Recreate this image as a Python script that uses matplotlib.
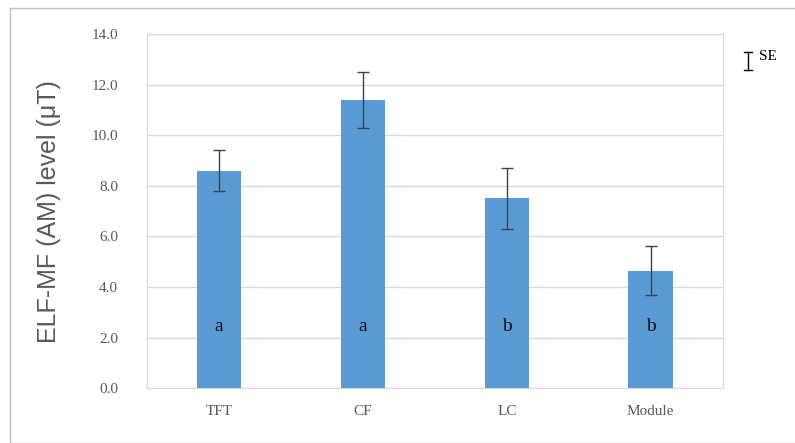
import matplotlib.pyplot as plt
from matplotlib.lines import Line2D
from matplotlib.patches import Rectangle

categories = ['TFT', 'CF', 'LC', 'Module']
means = [8.6, 11.4, 7.5, 4.65]
se = [0.82, 1.1, 1.2, 0.97]
letters = ['a', 'a', 'b', 'b']
yticks = [0, 2, 4, 6, 8, 10, 12, 14]

plt.rcParams['font.family'] = ['Liberation Serif', 'DejaVu Serif']

fig = plt.figure(figsize=(7.95, 4.43), dpi=100)
ax = fig.add_axes([0.185, 0.124, 0.724, 0.799])

x = range(len(categories))
ax.bar(x, means, width=0.31, color='#5B9BD5', zorder=2)
ax.errorbar(x, means, yerr=se, fmt='none', ecolor='#404040',
            elinewidth=1, capsize=4, capthick=1, zorder=3)

for i, lab in enumerate(letters):
    ax.text(i, 2.45, lab, ha='center', va='center', fontsize=14, color='#111111')

ax.set_xlim(-0.5, len(categories) - 0.5)
ax.set_ylim(0, 14)
ax.set_yticks(yticks)
ax.set_yticklabels(['%.1f' % v for v in yticks])
ax.set_xticks(list(x))
ax.set_xticklabels(categories)
ax.tick_params(length=0, labelsize=11, labelcolor='#595959')
ax.tick_params(axis='y', pad=21)
ax.tick_params(axis='x', pad=12)
ax.yaxis.grid(True, color='#d9d9d9', linewidth=1)
ax.set_axisbelow(True)
for s in ax.spines.values():
    s.set_color('#d9d9d9')

ax.set_ylabel('ELF-MF (AM) level (μT)', family=['Liberation Sans', 'DejaVu Sans'],
              fontsize=18, color='#595959', labelpad=22)

# SE legend key
fig.add_artist(Line2D([748 / 795, 748 / 795], [1 - 52 / 443, 1 - 70 / 443],
                      color='black', lw=1, transform=fig.transFigure))
for yy in (52, 70):
    fig.add_artist(Line2D([744 / 795, 752 / 795], [1 - yy / 443, 1 - yy / 443],
                          color='black', lw=1, transform=fig.transFigure))
fig.text(759 / 795, 1 - 57 / 443, 'SE', fontsize=11, va='center', color='black')

# outer chart border
fig.add_artist(Rectangle((10 / 795, 0.0), 1.0, 1 - 8 / 443, fill=False,
                         edgecolor='#bfbfbf', lw=1, transform=fig.transFigure))

fig.savefig('out.png', dpi=100)
